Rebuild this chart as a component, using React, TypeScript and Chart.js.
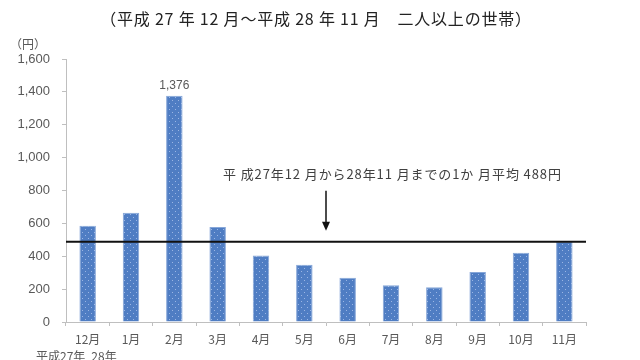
import React, { useEffect, useRef } from "react";
import { Chart, registerables } from "chart.js";

Chart.register(...registerables);

const categories = ["12月", "1月", "2月", "3月", "4月", "5月", "6月", "7月", "8月", "9月", "10月", "11月"];
const yearLabels = ["平成27年", "28年"];
const values = [585, 664, 1376, 578, 405, 348, 269, 223, 211, 304, 421, 486];
const meanValue = 488;
const titleText = "（平成 27 年 12 月～平成 28 年 11 月　二人以上の世帯）";
const unitText = "（円）";
const noteText = "平 成27年12 月から28年11 月までの1か 月平均 488円";
const labeledIndex = 2;

const FONT = '"Noto Sans CJK JP", "Noto Sans", sans-serif';
const NUMFONT = '"Liberation Sans", Arial, sans-serif';

function makePattern(): CanvasPattern | string {
  const c = document.createElement("canvas");
  c.width = 6;
  c.height = 6;
  const g = c.getContext("2d");
  if (!g) return "#4f7cc0";
  g.fillStyle = "#4f7dc3";
  g.fillRect(0, 0, 6, 6);
  g.fillStyle = "#9bb6e4";
  g.fillRect(1, 1, 1, 1);
  g.fillRect(4, 4, 1, 1);
  const p = g.createPattern(c, "repeat");
  return p || "#4f7cc0";
}

const overlay = {
  id: "overlay",
  afterDatasetsDraw(chart: any) {
    const ctx = chart.ctx;
    const x = chart.scales.x;
    const y = chart.scales.y;
    const area = chart.chartArea;
    ctx.save();
    // title
    ctx.fillStyle = "#222";
    ctx.font = `16px ${FONT}`;
    ctx.textAlign = "center";
    ctx.textBaseline = "middle";
    (ctx as any).letterSpacing = "0.8px";
    ctx.fillText(titleText, 316, 19);
    (ctx as any).letterSpacing = "0px";
    // unit
    ctx.fillStyle = "#595959";
    ctx.font = `12px ${FONT}`;
    ctx.fillText(unitText, 28, 44);
    // mean line
    const my = y.getPixelForValue(meanValue);
    ctx.strokeStyle = "#111";
    ctx.lineWidth = 2;
    ctx.beginPath();
    ctx.moveTo(area.left, my);
    ctx.lineTo(area.right, my);
    ctx.stroke();
    // arrow
    const ax = (x.getPixelForValue(5) + x.getPixelForValue(6)) / 2;
    ctx.lineWidth = 1.5;
    ctx.beginPath();
    ctx.moveTo(ax, my - 51);
    ctx.lineTo(ax, my - 18);
    ctx.stroke();
    ctx.fillStyle = "#111";
    ctx.beginPath();
    ctx.moveTo(ax - 4, my - 20);
    ctx.lineTo(ax + 4, my - 20);
    ctx.lineTo(ax, my - 11);
    ctx.closePath();
    ctx.fill();
    // note
    ctx.fillStyle = "#404040";
    ctx.font = `13px ${FONT}`;
    ctx.textAlign = "left";
    (ctx as any).letterSpacing = "0.9px";
    ctx.fillText(noteText, 223, my - 68);
    (ctx as any).letterSpacing = "0px";
    // data label
    const bar = chart.getDatasetMeta(0).data[labeledIndex];
    ctx.fillStyle = "#595959";
    ctx.font = `12px ${NUMFONT}`;
    ctx.textAlign = "center";
    ctx.textBaseline = "bottom";
    ctx.fillText(values[labeledIndex].toLocaleString("en-US"), bar.x, bar.y - 4);
    // year labels
    ctx.font = `12px ${FONT}`;
    ctx.textBaseline = "top";
    yearLabels.forEach((t, i) => {
      ctx.fillText(t, x.getPixelForValue(i) - 27, 350);
    });
    ctx.restore();
  },
};

export default function App() {
  const ref = useRef<HTMLCanvasElement | null>(null);
  useEffect(() => {
    if (!ref.current) return;
    const chart = new Chart(ref.current, {
      type: "bar",
      data: {
        labels: categories,
        datasets: [
          {
            data: values,
            backgroundColor: makePattern() as any,
            borderColor: "#86a6d8",
            borderWidth: 1,
            barPercentage: 0.38,
            categoryPercentage: 1,
          },
        ],
      },
      options: {
        responsive: false,
        animation: false,
        layout: { padding: { top: 59, right: 54, left: 0, bottom: 0 } },
        plugins: { legend: { display: false }, tooltip: { enabled: false }, title: { display: false } },
        scales: {
          x: {
            grid: { display: true, drawOnChartArea: false, tickLength: 4, color: "#bfbfbf", offset: true },
            border: { color: "#bfbfbf" },
            ticks: { color: "#595959", font: { family: FONT, size: 12 }, padding: 6, maxRotation: 0 },
            afterFit: (s: any) => {
              s.height = 38;
            },
          },
          y: {
            min: 0,
            max: 1600,
            grid: { display: true, drawOnChartArea: false, tickLength: 4, color: "#bfbfbf" },
            border: { color: "#bfbfbf" },
            ticks: {
              stepSize: 200,
              color: "#595959",
              font: { family: NUMFONT, size: 13 },
              padding: 12,
              callback: (v: any) => Number(v).toLocaleString("en-US"),
            },
            afterFit: (s: any) => {
              s.width = 66;
            },
          },
        },
      },
      plugins: [overlay],
    });
    return () => chart.destroy();
  }, []);
  return (
    <div style={{ position: "fixed", left: 0, top: 0, width: 640, height: 360, background: "#fff" }}>
      <canvas ref={ref} width={640} height={360} style={{ display: "block" }} />
    </div>
  );
}
